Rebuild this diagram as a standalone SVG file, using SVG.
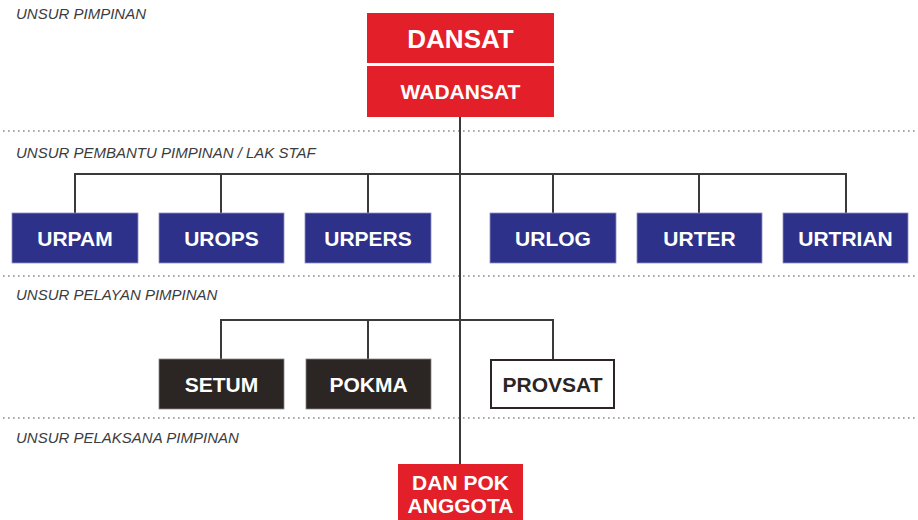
<svg xmlns="http://www.w3.org/2000/svg" width="918" height="520" viewBox="0 0 918 520">
<style>
.lbl{font-family:"Liberation Sans",Arial,sans-serif;font-style:italic;font-size:15px;fill:#3c3c3c}
.sep{stroke:#8a8a8a;stroke-width:1.6;stroke-dasharray:1.6 3.4;fill:none}
.ln{stroke:#3a3a3a;stroke-width:2;fill:none}
.red{fill:#e3202a}
.blue{fill:#2e3189;stroke:#8e90c4;stroke-width:0.8}
.blk{fill:#2b2523;stroke:#8a8584;stroke-width:0.8}
.wht{fill:#ffffff;stroke:#2b2523;stroke-width:2}
.t{font-family:"Liberation Sans",Arial,sans-serif;font-weight:bold;font-size:21px;fill:#ffffff;text-anchor:middle}
.td{fill:#2b2523}
</style>
<rect width="918" height="520" fill="#ffffff"/>
<g id="separators">
<line class="sep" x1="3" y1="131" x2="918" y2="131"/>
<line class="sep" x1="3" y1="276" x2="918" y2="276"/>
<line class="sep" x1="3" y1="418" x2="918" y2="418"/>
</g>
<g id="labels">
<text class="lbl" x="16" y="19">UNSUR PIMPINAN</text>
<text class="lbl" x="16" y="158">UNSUR PEMBANTU PIMPINAN / LAK STAF</text>
<text class="lbl" x="16" y="300">UNSUR PELAYAN PIMPINAN</text>
<text class="lbl" x="16" y="443">UNSUR PELAKSANA PIMPINAN</text>
</g>
<g id="connectors">
<line class="ln" x1="460" y1="117" x2="460" y2="465"/>
<polyline class="ln" points="75,213 75,174 846,174 846,213"/>
<line class="ln" x1="221" y1="174" x2="221" y2="213"/>
<line class="ln" x1="368" y1="174" x2="368" y2="213"/>
<line class="ln" x1="553" y1="174" x2="553" y2="213"/>
<line class="ln" x1="699" y1="174" x2="699" y2="213"/>
<polyline class="ln" points="221,359 221,320 553,320 553,359"/>
<line class="ln" x1="368" y1="320" x2="368" y2="359"/>
</g>
<g id="dansat">
<rect class="red" x="367" y="13" width="187" height="50"/>
<text class="t" x="460.5" y="48" style="font-size:26px">DANSAT</text>
</g>
<g id="wadansat">
<rect class="red" x="367" y="66" width="187" height="51"/>
<text class="t" x="460.5" y="99">WADANSAT</text>
</g>
<g id="urpam"><rect class="blue" x="12" y="213" width="126" height="50"/><text class="t" x="75" y="246">URPAM</text></g>
<g id="urops"><rect class="blue" x="159" y="213" width="125" height="50"/><text class="t" x="221.5" y="246">UROPS</text></g>
<g id="urpers"><rect class="blue" x="305" y="213" width="126" height="50"/><text class="t" x="368" y="246">URPERS</text></g>
<g id="urlog"><rect class="blue" x="490" y="213" width="126" height="50"/><text class="t" x="553" y="246">URLOG</text></g>
<g id="urter"><rect class="blue" x="637" y="213" width="125" height="50"/><text class="t" x="699.5" y="246">URTER</text></g>
<g id="urtrian"><rect class="blue" x="783" y="213" width="125" height="50"/><text class="t" x="845.5" y="246">URTRIAN</text></g>
<g id="setum"><rect class="blk" x="159" y="359" width="125" height="50"/><text class="t" x="221.5" y="392">SETUM</text></g>
<g id="pokma"><rect class="blk" x="306" y="359" width="125" height="50"/><text class="t" x="368.5" y="392">POKMA</text></g>
<g id="provsat"><rect class="wht" x="491" y="360" width="123" height="48"/><text class="t td" x="552.5" y="392">PROVSAT</text></g>
<g id="danpok">
<rect class="red" x="398" y="464" width="125" height="56"/>
<text class="t" x="460.5" y="490">DAN POK</text>
<text class="t" x="460.5" y="513">ANGGOTA</text>
</g>
</svg>
